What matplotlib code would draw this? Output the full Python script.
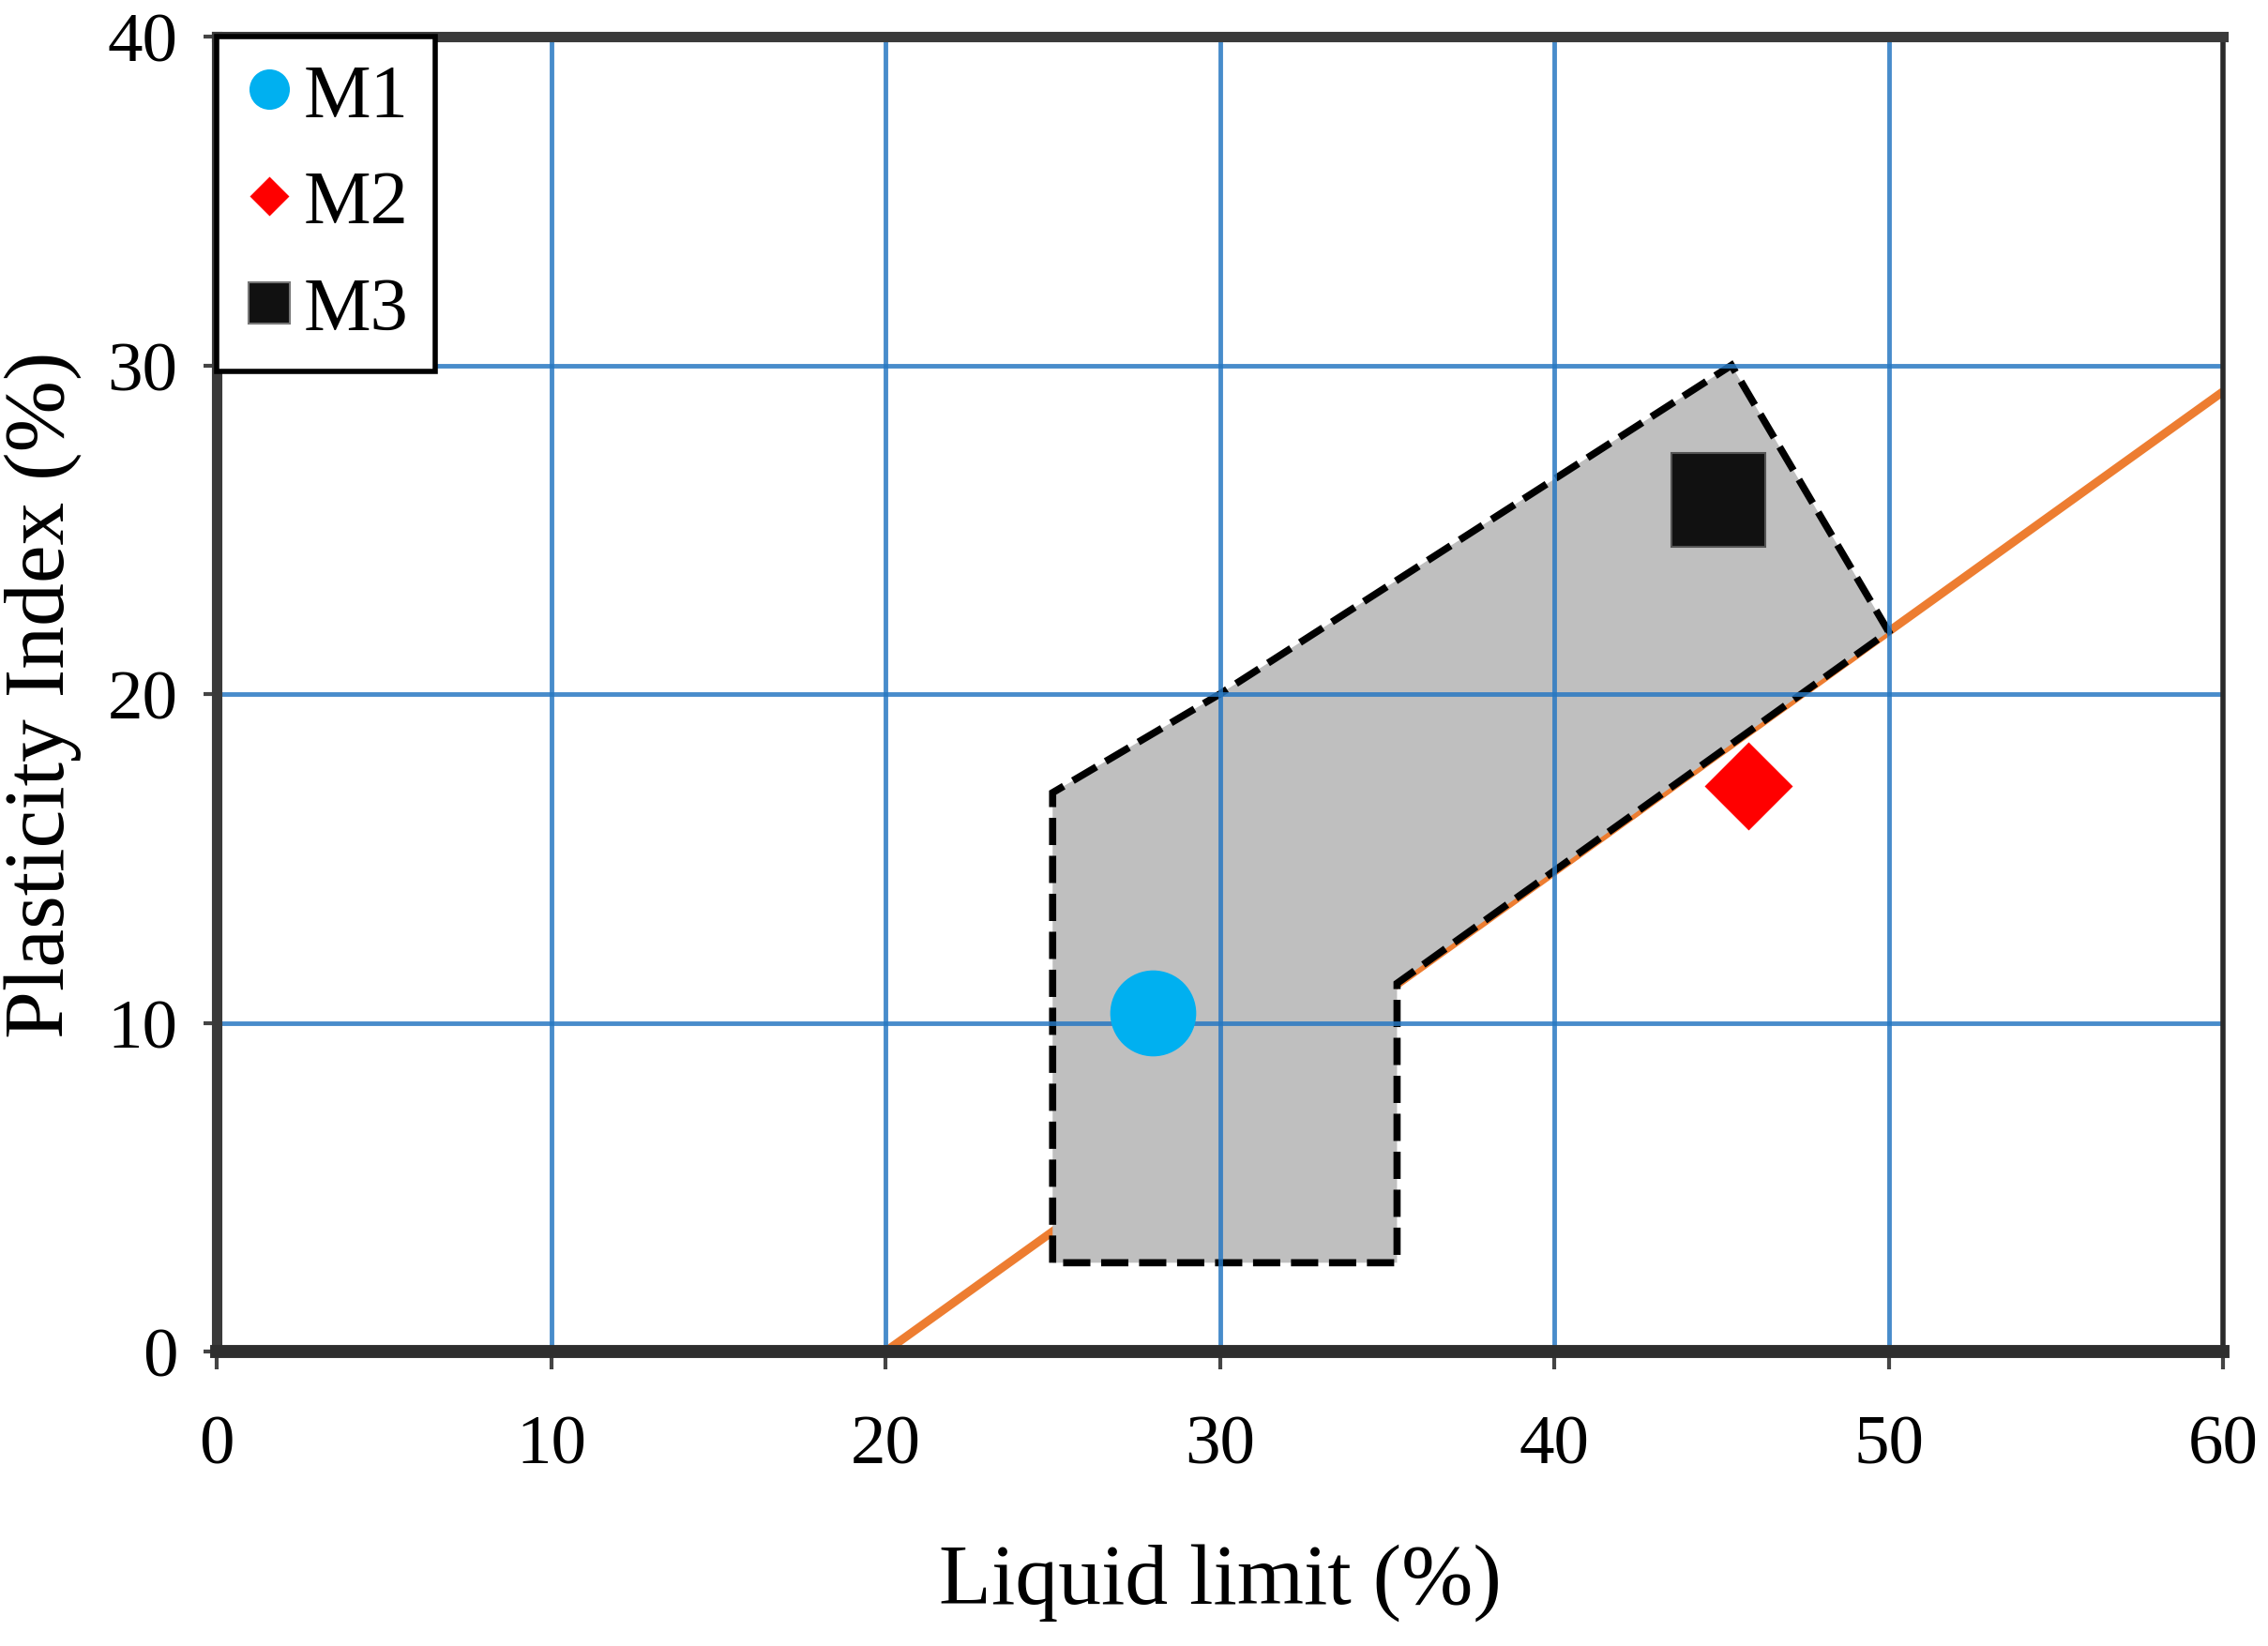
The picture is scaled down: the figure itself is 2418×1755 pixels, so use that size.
import matplotlib
matplotlib.use("Agg")
import matplotlib.pyplot as plt
from matplotlib.patches import Polygon
from matplotlib.lines import Line2D

plt.rcParams['font.family'] = ['Liberation Serif', 'DejaVu Serif']

# ---- data ----
names = ["M1", "M2", "M3"]
liquid_limit = [28.0, 45.8, 44.9]
plasticity_index = [10.3, 17.2, 25.9]

zone_ll = [25.0, 25.0, 30.0, 45.3, 50.0, 35.3, 35.3]
zone_pi = [2.7, 17.0, 20.0, 30.0, 21.9, 11.2, 2.7]

aline_ll = [20.0, 60.0]
aline_pi = [0.0, 29.2]

x_ticks = [0, 10, 20, 30, 40, 50, 60]
y_ticks = [0, 10, 20, 30, 40]

# ---- figure ----
W, H, DPI = 2418, 1756, 100
fig = plt.figure(figsize=(W / DPI, H / DPI), dpi=DPI)
ax = fig.add_axes([231 / W, 1 - 1442 / H, (2370 - 231) / W, (1442 - 40) / H])

ax.set_xlim(0, 60)
ax.set_ylim(0, 40)

# A-line
ax.plot(aline_ll, aline_pi, color="#ED7D31", lw=6.5, zorder=0.5, solid_capstyle="butt")

# zone fill and border
verts = list(zip(zone_ll, zone_pi))
ax.add_patch(Polygon(verts, closed=True, facecolor="#BFBFBF", edgecolor="none", zorder=1))
ax.add_patch(Polygon(verts, closed=True, facecolor="none", edgecolor="black",
                     lw=5.5, linestyle=(0, (3.8, 1.5)), zorder=2.5))

# grid
ax.set_xticks(x_ticks)
ax.set_yticks(y_ticks)
ax.grid(True, color="#2878C2", lw=3.5, alpha=0.85, zorder=2)
ax.set_axisbelow(False)
for gl in ax.get_xgridlines() + ax.get_ygridlines():
    gl.set_zorder(2)

# markers
ax.plot([liquid_limit[0]], [plasticity_index[0]], 'o', ms=66, color="#00B0F0",
        mec="none", zorder=3, label=names[0])
ax.plot([liquid_limit[1]], [plasticity_index[1]], 'D', ms=48, color="#FF0000",
        mec="none", zorder=3, label=names[1])
ax.plot([liquid_limit[2]], [plasticity_index[2]], 's', ms=72, color="#111111",
        mec="#555555", mew=1.5, zorder=3, label=names[2])

# spines and ticks
for side in ["left", "top"]:
    ax.spines[side].set_linewidth(8)
    ax.spines[side].set_color("#3A3A3A")
ax.spines["bottom"].set_linewidth(10)
ax.spines["bottom"].set_color("#2E2E2E")
ax.spines["right"].set_linewidth(4)
ax.spines["right"].set_color("#2A2A2A")
for sp in ax.spines.values():
    sp.set_zorder(5)

ax.tick_params(axis="x", direction="out", length=14, width=3, color="#444444",
               labelsize=54, pad=34)
ax.tick_params(axis="y", direction="out", length=10, width=3, color="#444444",
               labelsize=54, pad=20)

ax.set_xlabel("Liquid limit (%)", fontsize=66, labelpad=50)
ax.set_ylabel("Plasticity Index (%)", fontsize=66, labelpad=20)

# legend (small markers)
handles = [
    Line2D([], [], marker='o', ls='none', ms=31, color="#00B0F0", mec="none"),
    Line2D([], [], marker='D', ms=21, ls='none', color="#FF0000", mec="none"),
    Line2D([], [], marker='s', ms=31, ls='none', color="#111111", mec="#777777", mew=1.5),
]
leg = ax.legend(handles, names, loc="upper left", bbox_to_anchor=(0, 1),
                borderaxespad=0, fancybox=False, framealpha=1, edgecolor="black",
                fontsize=58, handlelength=0.7, handletextpad=0.1,
                labelspacing=0.5, borderpad=0.35)
leg.get_frame().set_linewidth(4)
leg.set_zorder(6)

fig.savefig("out.png", dpi=DPI)
